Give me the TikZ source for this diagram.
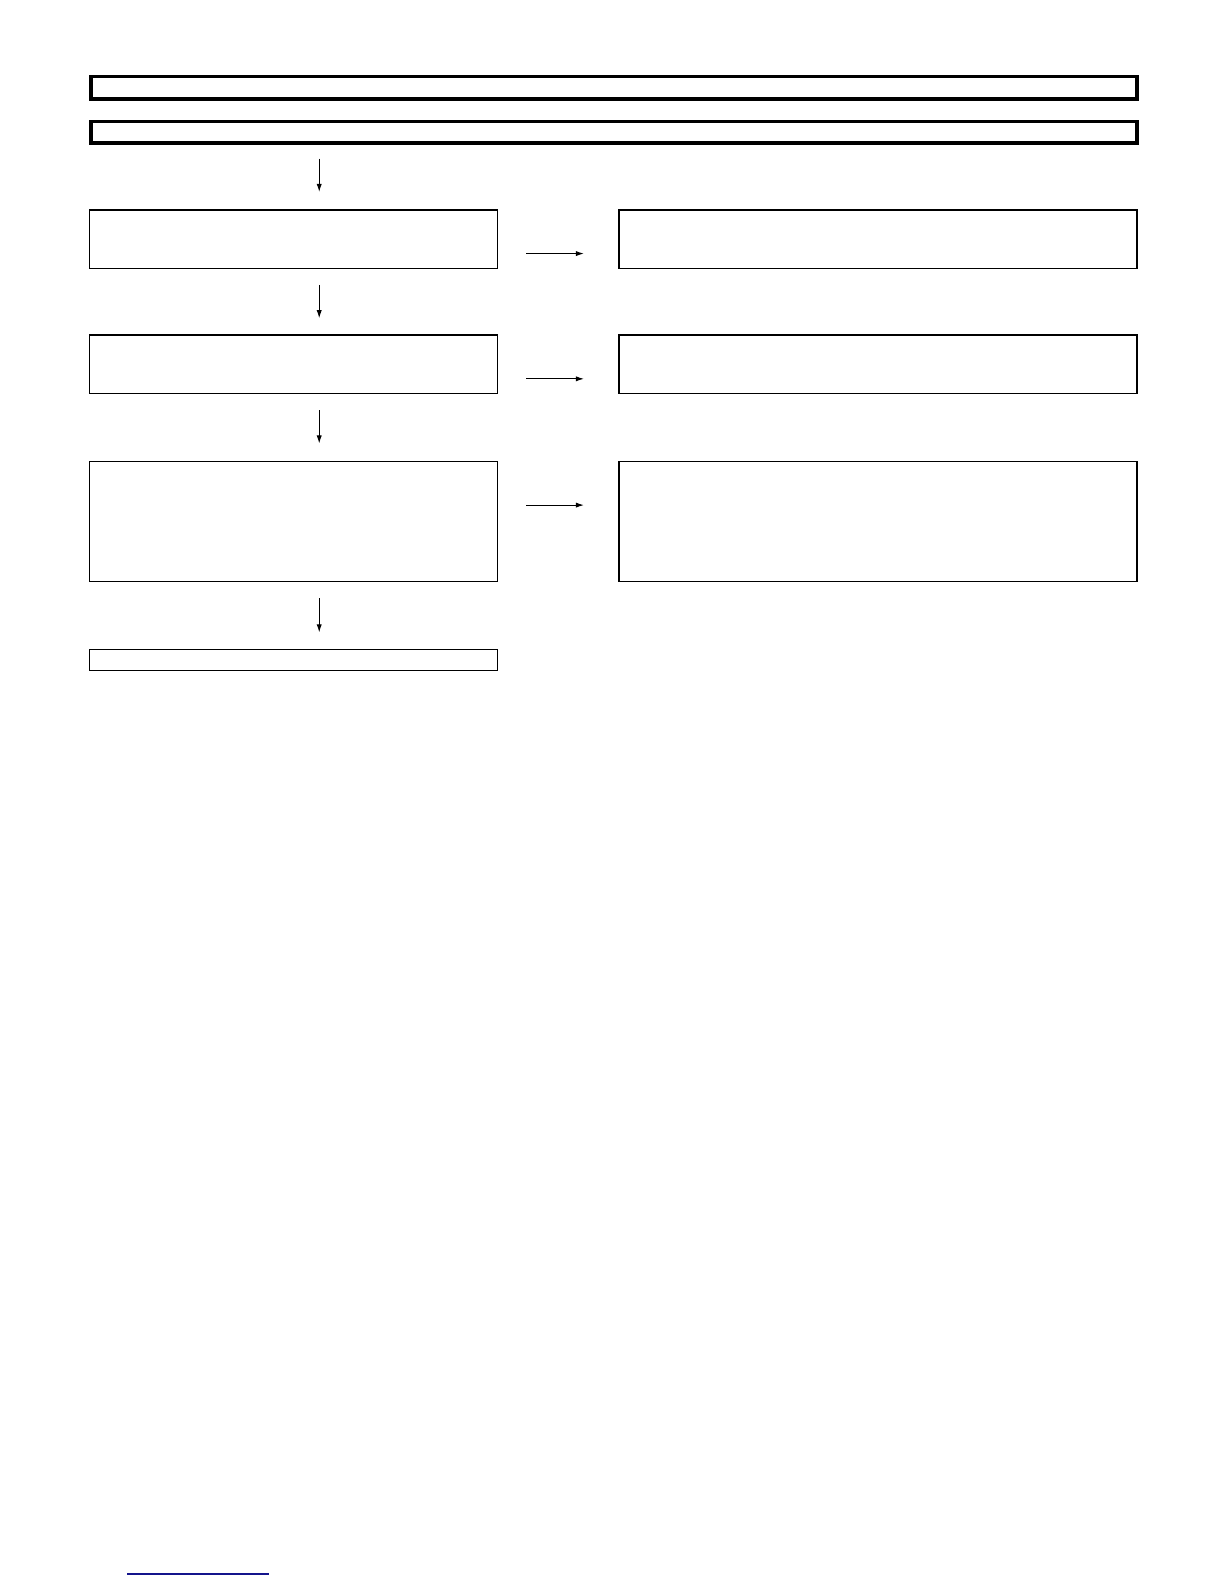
\documentclass[tikz,border=0pt]{standalone}
\usetikzlibrary{arrows.meta}
\definecolor{linkblue}{RGB}{20,20,140}
\tikzset{
  titlebox/.style={draw, line width=1.85pt, anchor=north west, inner sep=0pt},
  stepbox/.style={draw, line width=0.7pt, anchor=north west, inner sep=0pt},
  flow/.style={-{Latex[length=4pt,width=2.6pt]}, line width=0.5pt}
}
\begin{document}
\begin{tikzpicture}[x=0.505pt,y=-0.505pt]
\def \U {0.505pt};
\def \Left {88};
\def \Right {612};
\def \WLeft {404*\U};
\def \WRight {513*\U};
\def \Mid {316};

% page
\useasboundingbox[fill=white] (0,0) rectangle (1212,1568);

% les bandeaux du haut
\node[titlebox, minimum width=1036*\U, minimum height=22*\U] (title) at (88,74) {};
\node[titlebox, minimum width=1036*\U, minimum height=21*\U] (subtitle) at (88,118.5) {};

% colonne de gauche
\node[stepbox, minimum width=\WLeft, minimum height=58*\U] (stepA) at (\Left,207) {};
\node[stepbox, minimum width=\WLeft, minimum height=58*\U] (stepB) at (\Left,331) {};
\node[stepbox, minimum width=\WLeft, minimum height=119*\U] (stepC) at (\Left,456) {};
\node[stepbox, minimum width=\WLeft, minimum height=21*\U] (stepD) at (\Left,642) {};

% colonne de droite
\node[stepbox, minimum width=\WRight, minimum height=58*\U] (noteA) at (\Right,207) {};
\node[stepbox, minimum width=\WRight, minimum height=58*\U] (noteB) at (\Right,331) {};
\node[stepbox, minimum width=\WRight, minimum height=119*\U] (noteC) at (\Right,456) {};

% les flèches verticales
\coordinate (in) at (\Mid,157);
\coordinate (inA) at (\Mid,190);
\coordinate (outA) at (\Mid,282);
\coordinate (inB) at (\Mid,315);
\coordinate (outB) at (\Mid,406);
\coordinate (inC) at (\Mid,439);
\coordinate (outC) at (\Mid,592);
\coordinate (inD) at (\Mid,626);

\draw[flow] (in) -- (inA);
\draw[flow] (outA) -- (inB);
\draw[flow] (outB) -- (inC);
\draw[flow] (outC) -- (inD);

% les flèches horizontales
\coordinate (sideA) at (521,251);
\coordinate (sideB) at (521,375);
\coordinate (sideC) at (521,500);
\draw[flow] (sideA) -- ++(57,0);
\draw[flow] (sideB) -- ++(57,0);
\draw[flow] (sideC) -- ++(57,0);

% trait bleu en bas
\coordinate (linkL) at (126,1558);
\coordinate (linkR) at (266,1558);
\draw[linkblue, line width=0.7pt] (linkL) -- (linkR);
\end{tikzpicture}
\end{document}
